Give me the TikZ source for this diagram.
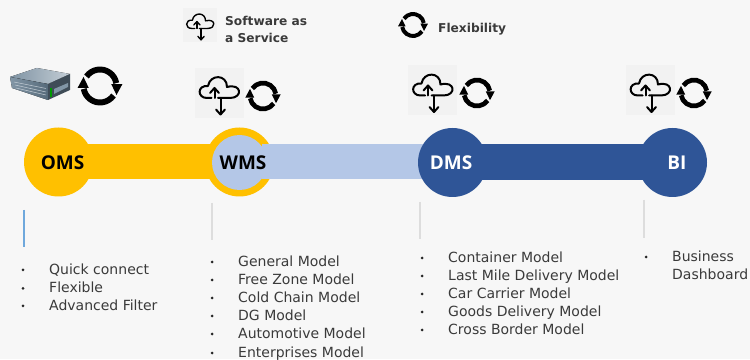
\documentclass[tikz,border=0pt]{standalone}
\usepackage{fontspec}
\setmainfont{DejaVu Sans}
\newfontfamily\hubfont{Open Sans}
\definecolor{pagebg}{HTML}{F7F7F7}
\definecolor{squarebg}{HTML}{F2F2F2}
\definecolor{omsyellow}{HTML}{FFC000}
\definecolor{wmslight}{HTML}{B4C7E7}
\definecolor{dmsblue}{HTML}{2F5597}
\definecolor{bodytext}{HTML}{3A3A3A}
\definecolor{tickgray}{HTML}{DDDDDD}
\definecolor{tickblue}{HTML}{6FA8DC}
\definecolor{srvtopa}{HTML}{7F93A3}
\definecolor{srvtopb}{HTML}{C3CDD5}
\definecolor{srvfronta}{HTML}{8296A6}
\definecolor{srvfrontb}{HTML}{566A7A}
\definecolor{srvside}{HTML}{3F4C57}
\tikzset{
  hub/.style={circle,minimum size=69pt,inner sep=0pt},
  hublabel/.style={font=\hubfont\bfseries\fontsize{19}{19}\selectfont,inner sep=0pt,anchor=base},
  listtext/.style={font=\fontsize{14}{14}\selectfont,text=bodytext,inner sep=0pt,anchor=base west},
  listdot/.style={circle,fill=black!85,minimum size=3pt,inner sep=0pt},
  tick/.style={line width=2.4pt},
  legendtext/.style={font=\bfseries\fontsize{12.2}{12.2}\selectfont,text=bodytext,inner sep=0pt,anchor=base west}
}
% refresh icon: centre x, y, ring radius
\newcommand{\refreshicon}[3]{%
  \begin{scope}[shift={(#1,#2)}]
    \draw[line width=#3*0.36pt,black] (145:#3) arc[start angle=145,end angle=10,radius=#3];
    \draw[line width=#3*0.36pt,black] (-35:#3) arc[start angle=-35,end angle=-170,radius=#3];
    \fill[black] (#3*0.68,#3*0.12) -- (#3*1.36,#3*0.12) -- (#3*1.0,-#3*0.55) -- cycle;
    \fill[black] (-#3*0.68,-#3*0.12) -- (-#3*1.36,-#3*0.12) -- (-#3*1.0,#3*0.55) -- cycle;
  \end{scope}}
% cloud icon: square centre x, y, scale
\newcommand{\cloudicon}[3]{%
  \fill[squarebg] (#1-24.5*#3,#2-25*#3) rectangle (#1+24.5*#3,#2+25*#3);
  \begin{scope}[shift={(#1,#2)},xscale=#3,yscale=-#3,line width=#3*2pt,black,line cap=round,line join=round]
    \draw (-7.5,5) -- (-12,5) .. controls (-22,5) and (-22,-8) .. (-11,-7)
      .. controls (-9,-19) and (8,-19) .. (8,-6)
      .. controls (23,-10) and (24,5) .. (11,5) -- (-1,5);
    \draw (-4.5,5) -- (-4.5,-4);
    \draw (-9,0) -- (-4.5,-5) -- (0,0);
    \draw (1.5,5) -- (1.5,21);
    \draw (-3,16.5) -- (1.5,21.5) -- (6,16.5);
  \end{scope}}
\begin{document}
\begin{tikzpicture}[x=1pt,y=1pt]
\useasboundingbox (0,0) rectangle (750,359);
\clip (0,0) rectangle (750,359);
\fill[pagebg] (0,0) rectangle (750,359);

% server
\fill[left color=srvtopa,right color=srvtopb] (10,282) -- (37,291) -- (70,285) -- (48,275) -- cycle;
\fill[left color=srvfronta,right color=srvfrontb] (10,282) -- (48,275) -- (48,259) -- (12,271) -- cycle;
\fill[srvside] (48,275) -- (70,285) -- (70,269) -- (48,259) -- cycle;
\draw[srvtopb,line width=0.5pt] (14,277) -- (46,270.5) (15,274) -- (46,267) (16,271) -- (46,264);
\fill[green!60!black] (49.5,262) rectangle (52,271);
\fill[srvfronta] (54,265) -- (68,272) -- (68,276) -- (54,270) -- cycle;

% icons
\refreshicon{100}{273}{16.5}
\refreshicon{263}{263}{13}
\refreshicon{413}{334}{11}
\refreshicon{477}{266}{13}
\refreshicon{694}{266}{13}
\cloudicon{200}{334}{0.69}
\cloudicon{219}{266}{1}
\cloudicon{432.5}{268.5}{1}
\cloudicon{650}{268.5}{1}

% bars
\fill[omsyellow] (58.5,215) rectangle (239.5,180);
\fill[wmslight] (239.5,215) rectangle (452.5,180);
\fill[dmsblue] (452.5,214.5) rectangle (672.5,178.5);

% hubs
\node[hub,fill=omsyellow] (oms) at (58.5,197) {};
\node[hub,fill=omsyellow] (wmsring) at (239.5,197) {};
\node[hub,fill=wmslight,minimum size=55pt] (wms) at (239.5,196.5) {};
\fill[wmslight] (262,215) rectangle (300,180);
\node[hub,fill=dmsblue] (dms) at (452.5,196.5) {};
\node[hub,fill=dmsblue] (bi) at (672.5,196.5) {};
\node[hublabel] (omsl) at (62.5,189.5) {OMS};
\node[hublabel] (wmsl) at (243,189.5) {WMS};
\node[hublabel,text=white] (dmsl) at (451,189.5) {DMS};
\node[hublabel,text=white] (bil) at (677,189.5) {BI};

% legend
\node[legendtext] (saas1) at (225,333.5) {Software as};
\node[legendtext] (saas2) at (225,316.5) {a Service};
\node[legendtext] (flex) at (438,326.5) {Flexibility};

% ticks
\draw[tick,tickblue] (24,149) -- (24,112);
\draw[tick,tickgray] (212,156) -- (212,119);
\draw[tick,tickgray] (420,157) -- (420,120);
\draw[tick,tickgray] (644,159) -- (644,121);

% OMS list
\foreach \ty/\tx [count=\i] in {84.5/Quick connect,66/Flexible,48.5/Advanced Filter}{
  \node[listtext] (oms\i) at (49,\ty) {\tx};
  \node[listdot] (omsd\i) at (23,\ty+4.5) {};
}
% WMS list
\foreach \ty/\tx [count=\i] in {92.5/General Model,74.5/Free Zone Model,56.5/Cold Chain Model,38.5/DG Model,20.5/Automotive Model,1.5/Enterprises Model}{
  \node[listtext] (wms\i) at (238,\ty) {\tx};
  \node[listdot] (wmsd\i) at (212,\ty+4.5) {};
}
% DMS list
\foreach \ty/\tx [count=\i] in {96.5/Container Model,78.5/Last Mile Delivery Model,60.5/Car Carrier Model,42.5/Goods Delivery Model,24.5/Cross Border Model}{
  \node[listtext] (dms\i) at (448,\ty) {\tx};
  \node[listdot] (dmsd\i) at (422,\ty+4.5) {};
}
% BI list
\node[listtext] (bi1) at (672,97.5) {Business};
\node[listtext] (bi2) at (672,79.5) {Dashboard};
\node[listdot] (bid1) at (646,102) {};
\end{tikzpicture}
\end{document}
